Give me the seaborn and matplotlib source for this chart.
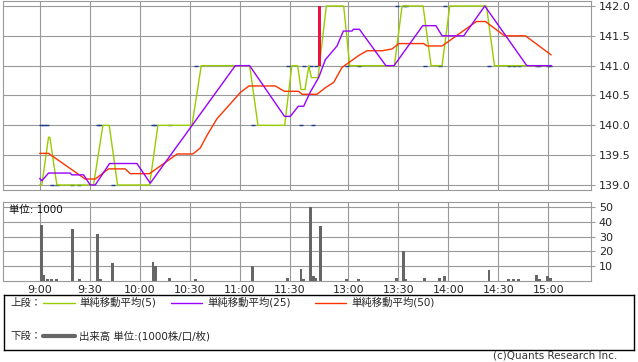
import matplotlib
matplotlib.use("Agg")
import matplotlib.pyplot as plt
import numpy as np
import pandas as pd
import seaborn as sns

# ---------------- data ----------------
# x positions are minutes on the session axis (0 = 9:00, 150 = 11:30, afternoon 12:30 = 155)
tick_pos = [0, 30, 60, 90, 120, 150, 185, 215, 245, 275, 305]
tick_labels = ["9:00", "9:30", "10:00", "10:30", "11:00", "11:30",
               "13:00", "13:30", "14:00", "14:30", "15:00"]
price_ticks = [139.0, 139.5, 140.0, 140.5, 141.0, 141.5, 142.0]
vol_ticks = [10, 20, 30, 40, 50]

sma5_pos = [0, 1.3, 5.3, 6.1, 10.3, 32.3, 37.9, 41.7, 46.7, 65.9, 70.9, 91.3, 96.9,
            125.9, 130.9, 146.9, 151.2, 154.7, 156.7, 159.1, 161.4, 162.9, 166.9,
            171.9, 182.3, 185.9, 212.7, 217.3, 229.9, 234.7, 241.3, 245.9, 267.9,
            272.7, 306.7]
sma5_val = [139.0, 139.0, 139.8, 139.8, 139.0, 139.0, 140.0, 140.0, 139.0, 139.0,
            140.0, 140.0, 141.0, 141.0, 140.0, 140.0, 141.0, 141.0, 140.6, 140.6,
            141.0, 140.8, 140.8, 142.0, 142.0, 141.0, 141.0, 142.0, 142.0, 141.0,
            141.0, 142.0, 142.0, 141.0, 141.0]

sma25_pos = [0, 1.3, 5.3, 18.3, 19.3, 26.3, 30.3, 33.3, 41.9, 58.3, 66.3, 117.3,
             125.9, 146.8, 150.3, 155.1, 158.3, 162.3, 167.3, 171.3, 178.3, 182.1,
             187.3, 188.1, 191.7, 207.6, 212.5, 229.7, 237.6, 241.3, 254.3, 266.9,
             292.1, 306.9]
sma25_val = [139.11, 139.07, 139.2, 139.2, 139.17, 139.17, 139.0, 139.0, 139.36,
             139.36, 139.03, 141.0, 141.0, 140.15, 140.15, 140.32, 140.32, 140.56,
             140.8, 141.1, 141.33, 141.58, 141.58, 141.61, 141.61, 141.0, 141.0,
             141.67, 141.67, 141.5, 141.5, 142.0, 141.0, 141.0]

sma50_pos = [0, 5.3, 27.3, 33.3, 41.3, 51.3, 54.3, 65.9, 82.5, 91.9, 96.3, 100.3,
             106.3, 114.3, 120.3, 125.5, 141.3, 146.7, 155.3, 157.3, 166.3, 171.3,
             176.3, 181.3, 185.3, 191.3, 196.3, 205.3, 211.3, 215.3, 230.3, 232.3,
             241.3, 261.9, 267.3, 278.7, 291.3, 306.7]
sma50_val = [139.53, 139.53, 139.1, 139.1, 139.27, 139.27, 139.19, 139.19, 139.52,
             139.52, 139.62, 139.83, 140.11, 140.36, 140.55, 140.66, 140.66, 140.57,
             140.57, 140.52, 140.52, 140.63, 140.72, 140.97, 141.05, 141.17, 141.25,
             141.25, 141.28, 141.37, 141.37, 141.33, 141.33, 141.74, 141.74, 141.5,
             141.5, 141.18]

# one-minute candles without body (open = close)
doji_pos = [1.0, 2.6, 4.5, 7.1, 10.1, 19.6, 23.8, 34.9, 36.4, 43.7, 67.9, 69.4, 77.9,
            93.5, 127.7, 148.7, 156.7, 158.3, 162.6, 164.1, 165.5, 184.1, 191.3,
            214.2, 218.2, 219.7, 230.9, 239.9, 242.8, 269.4, 281.3, 284.3, 287.3,
            298.1, 299.6, 304.7, 306.2]
doji_price = [140.0, 140.0, 140.0, 139.0, 139.0, 139.0, 139.0, 140.0, 140.0, 139.0,
              140.0, 140.0, 140.0, 141.0, 140.0, 141.0, 140.0, 141.0, 141.0, 140.0,
              141.0, 141.0, 141.0, 142.0, 142.0, 142.0, 141.0, 141.0, 142.0, 141.0,
              141.0, 141.0, 141.0, 141.0, 141.0, 141.0, 141.0]
# rising candle
up_pos = [167.6]
up_open = [141.0]
up_close = [142.0]

vol_pos = [1.0, 2.6, 4.5, 7.1, 10.1, 19.6, 23.8, 34.9, 36.4, 43.7, 67.9, 69.4, 77.9,
           93.5, 127.7, 148.7, 156.7, 158.3, 162.6, 164.1, 165.5, 168.6, 184.1,
           191.3, 214.2, 218.2, 219.7, 230.9, 239.9, 242.8, 269.4, 281.3, 284.3,
           287.3, 298.1, 299.6, 304.7, 306.2]
vol_val = [38, 4, 1, 1, 1, 35, 1, 32, 1, 12, 13, 10, 2, 1, 10, 2, 8, 1, 50, 3, 2, 37,
           1, 1, 2, 20, 1, 2, 2, 3, 7, 1, 1, 1, 4, 1, 3, 2]

series_names = ["単純移動平均(5)", "単純移動平均(25)", "単純移動平均(50)"]
series_colors = ["#99cc00", "#9900ff", "#ff3300"]

# ---------------- style ----------------
sns.set_style("white")
plt.rcParams["font.family"] = ["DejaVu Sans", "Noto Sans CJK JP"]
GRID = "#999999"

W, H = 638, 362
fig = plt.figure(figsize=(W / 100, H / 100), dpi=100)

def fbox(x0, y0, x1, y1):
    return [x0 / W, 1 - y1 / H, (x1 - x0) / W, (y1 - y0) / H]

ax1 = fig.add_axes(fbox(3, 0.5, 590.5, 190))
ax2 = fig.add_axes(fbox(3, 202.3, 590.5, 280.7))

# ---------------- price panel ----------------
df = pd.concat([
    pd.DataFrame({"pos": sma5_pos, "price": sma5_val, "series": series_names[0]}),
    pd.DataFrame({"pos": sma50_pos, "price": sma50_val, "series": series_names[2]}),
    pd.DataFrame({"pos": sma25_pos, "price": sma25_val, "series": series_names[1]}),
])
ax1.plot(doji_pos, doji_price, linestyle="none", marker="_", markersize=3.5,
         markeredgewidth=1.0, color="#1a3c8c", zorder=2)
for name, col in [(series_names[0], series_colors[0]),
                  (series_names[2], series_colors[2]),
                  (series_names[1], series_colors[1])]:
    sns.lineplot(data=df[df["series"] == name], x="pos", y="price", color=col,
                 sort=False, estimator=None, linewidth=1.0, ax=ax1, legend=False, zorder=3)
ax1.bar(up_pos, np.array(up_close) - np.array(up_open), bottom=up_open, width=1.6,
        color="#ee1144", linewidth=0, antialiased=False, zorder=4)

ax1.set_xlim(-22, 330.3)
ax1.set_ylim(138.916, 142.092)
ax1.set_xticks(tick_pos)
ax1.set_yticks(price_ticks)
ax1.set_yticklabels([f"{v:.1f}" for v in price_ticks])
ax1.tick_params(axis="x", bottom=False, labelbottom=False)
ax1.tick_params(axis="y", left=False, labelleft=False, right=True, labelright=True,
                length=3, width=0.8, color=GRID, labelsize=8, pad=3)
ax1.grid(True, color=GRID, linewidth=0.8)
ax1.set_axisbelow(True)
ax1.set_xlabel("")
ax1.set_ylabel("")
for s in ax1.spines.values():
    s.set_color(GRID)
    s.set_linewidth(0.8)

# ---------------- volume panel ----------------
ax2.bar(vol_pos, vol_val, width=1.7, color="#666666", linewidth=0,
        antialiased=False, zorder=2)
ax2.set_xlim(-22, 330.3)
ax2.set_ylim(0, 53.4)
ax2.set_xticks(tick_pos)
ax2.set_xticklabels(tick_labels)
ax2.set_yticks(vol_ticks)
ax2.tick_params(axis="x", length=0, labelsize=8, pad=3)
ax2.tick_params(axis="y", left=False, labelleft=False, right=True, labelright=True,
                length=3, width=0.8, color=GRID, labelsize=8, pad=3)
ax2.grid(True, color=GRID, linewidth=0.8)
ax2.set_axisbelow(True)
for s in ax2.spines.values():
    s.set_color(GRID)
    s.set_linewidth(0.8)
ax2.text(6 / 587.5, 0.9, "単位: 1000", transform=ax2.transAxes, fontsize=7.5,
         va="center", ha="left", color="#111111")

# ---------------- legend box ----------------
axl = fig.add_axes(fbox(4, 295, 634, 350))
axl.set_xlim(4, 634)
axl.set_ylim(350, 295)
axl.set_xticks([])
axl.set_yticks([])
for s in axl.spines.values():
    s.set_color("black")
    s.set_linewidth(1.0)
row1, row2 = 302.5, 336
axl.text(10, row1, "上段：", fontsize=7.5, va="center", ha="left")
for (x0, x1, tx), name, col in zip([(43, 75, 79), (171, 202, 207), (315, 346, 351)],
                                   series_names, series_colors):
    axl.plot([x0, x1], [row1, row1], color=col, linewidth=1.0)
    axl.text(tx, row1, name, fontsize=7.5, va="center", ha="left")
axl.text(10, row2, "下段：", fontsize=7.5, va="center", ha="left")
axl.plot([43, 75], [row2, row2], color="#666666", linewidth=3)
axl.text(79, row2, "出来高 単位:(1000株/口/枚)", fontsize=7.5, va="center", ha="left")

fig.text(617 / W, 1 - 356 / H, "(c)Quants Research Inc.", fontsize=7.5,
         ha="right", va="center", color="#333333")

fig.savefig("out.png", dpi=100)
